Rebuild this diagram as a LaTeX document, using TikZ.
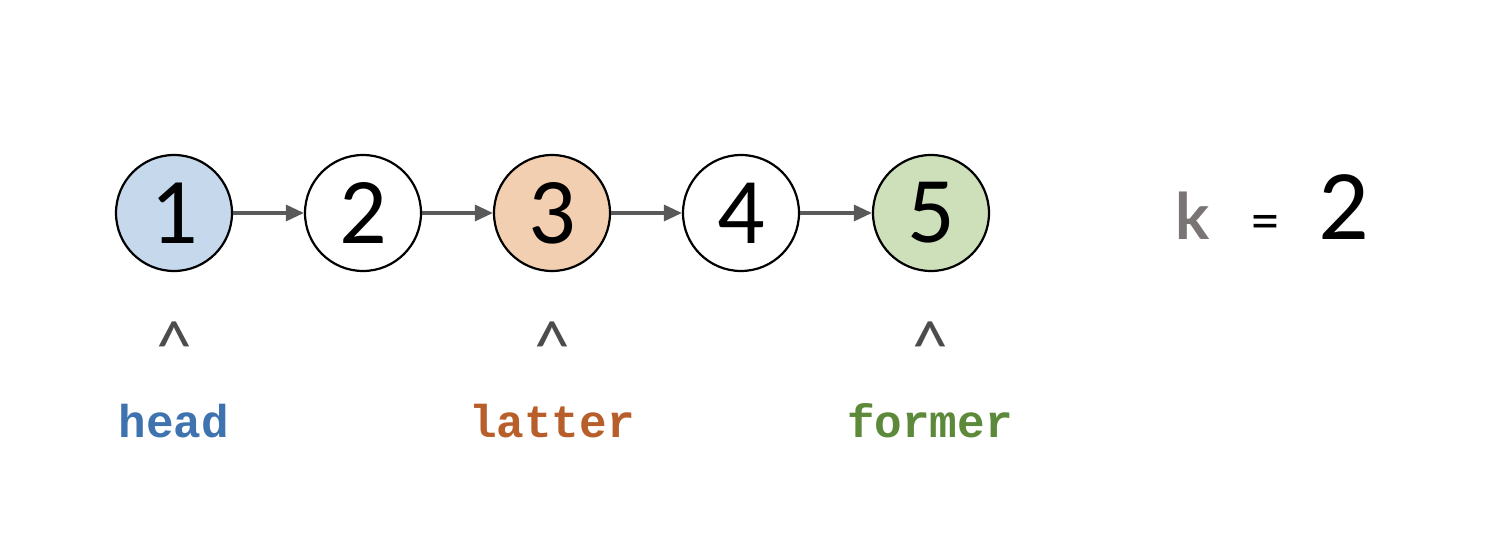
\documentclass[tikz,border=0pt]{standalone}
\usepackage{fontspec}
\setmainfont{Carlito}
\newfontfamily\monob{Liberation Mono}
\newfontfamily\kfont{Lato}
\usetikzlibrary{arrows.meta}
\definecolor{cblue}{HTML}{C5D8EC}
\definecolor{corange}{HTML}{F2CFB0}
\definecolor{cgreen}{HTML}{CDE0BA}
\definecolor{tblue}{HTML}{3E73B0}
\definecolor{torange}{HTML}{B85E2A}
\definecolor{tgreen}{HTML}{5C8A3A}
\definecolor{arrgray}{HTML}{595959}
\definecolor{kgray}{HTML}{7A7574}
\tikzset{
  x=1pt, y=1pt,
  lnode/.style={circle, draw=black, line width=2.2pt, minimum size=116pt, inner sep=0pt,
    font=\fontsize{94}{94}\selectfont},
  link/.style={draw=arrgray, line width=3.2pt, -{Triangle[length=18pt,width=16pt]}},
  caret/.style={text=black!70, font=\fontsize{72}{72}\selectfont, inner sep=0pt},
  ptr/.style={anchor=base, inner sep=0pt, font=\fontsize{46}{46}\selectfont\monob\bfseries},
}
\begin{document}
\begin{tikzpicture}
\useasboundingbox (0,0) rectangle (1498,554);
\node[lnode, fill=cblue] (n1) at (174,341) {1};
\node[lnode, fill=white] (n2) at (363,341) {2};
\node[lnode, fill=corange] (n3) at (552,341) {3};
\node[lnode, fill=white] (n4) at (741,341) {4};
\node[lnode, fill=cgreen] (n5) at (931,341) {5};
\draw[link] (n1) -- (n2);
\draw[link] (n2) -- (n3);
\draw[link] (n3) -- (n4);
\draw[link] (n4) -- (n5);
\node[caret] (c1) at (174,208) {\textasciicircum};
\node[caret] (c3) at (552,208) {\textasciicircum};
\node[caret] (c5) at (930,208) {\textasciicircum};
\node[ptr, text=tblue] (lh) at (174,116) {head};
\node[ptr, text=torange] (ll) at (552,116) {latter};
\node[ptr, text=tgreen] (lf) at (930,116) {former};
\node[text=kgray, inner sep=0pt, anchor=base, font=\fontsize{64}{64}\selectfont\kfont\bfseries] (k) at (1193,314) {k};
\node[inner sep=0pt, anchor=base, font=\fontsize{56}{56}\selectfont] (eq) at (1265,314) {=};
\node[inner sep=0pt, anchor=base, font=\fontsize{100}{100}\selectfont] (two) at (1344,314) {2};
\end{tikzpicture}
\end{document}
